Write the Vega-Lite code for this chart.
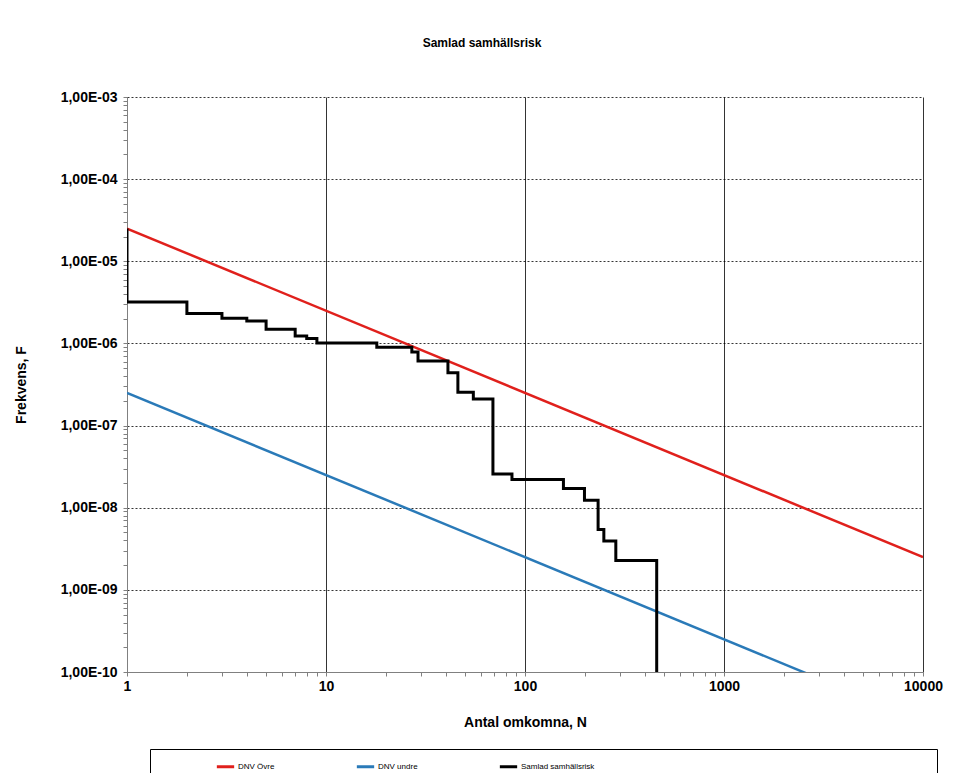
{
  "$schema": "https://vega.github.io/schema/vega-lite/v6.json",
  "autosize": {"type": "none"},
  "width": 796,
  "height": 575,
  "padding": {"left": 127, "top": 97, "right": 37, "bottom": 101},
  "background": "white",
  "title": {
    "text": "Samlad samhällsrisk",
    "font": "Liberation Sans",
    "fontSize": 12,
    "fontWeight": "bold",
    "color": "black",
    "offset": 40,
    "dx": -43
  },
  "config": {
    "view": {"stroke": null},
    "font": "Liberation Sans"
  },
  "datasets": {
    "limits": [
      {"N": 1, "F": 2.5e-5, "serie": "DNV Övre", "i": 0},
      {"N": 10000, "F": 2.5e-9, "serie": "DNV Övre", "i": 1},
      {"N": 1, "F": 2.5e-7, "serie": "DNV undre", "i": 0},
      {"N": 10000, "F": 2.5e-11, "serie": "DNV undre", "i": 1}
    ],
    "risk": [
      {"N": 1, "F": 2.5e-5, "serie": "Samlad samhällsrisk", "i": 0},
      {"N": 1, "F": 3.2e-6, "serie": "Samlad samhällsrisk", "i": 1},
      {"N": 2, "F": 2.31e-6, "serie": "Samlad samhällsrisk", "i": 2},
      {"N": 3, "F": 2.02e-6, "serie": "Samlad samhällsrisk", "i": 3},
      {"N": 4, "F": 1.87e-6, "serie": "Samlad samhällsrisk", "i": 4},
      {"N": 5, "F": 1.49e-6, "serie": "Samlad samhällsrisk", "i": 5},
      {"N": 7, "F": 1.23e-6, "serie": "Samlad samhällsrisk", "i": 6},
      {"N": 8, "F": 1.15e-6, "serie": "Samlad samhällsrisk", "i": 7},
      {"N": 9, "F": 1.01e-6, "serie": "Samlad samhällsrisk", "i": 8},
      {"N": 18, "F": 8.97e-7, "serie": "Samlad samhällsrisk", "i": 9},
      {"N": 27, "F": 7.87e-7, "serie": "Samlad samhällsrisk", "i": 10},
      {"N": 29, "F": 6.1e-7, "serie": "Samlad samhällsrisk", "i": 11},
      {"N": 41, "F": 4.39e-7, "serie": "Samlad samhällsrisk", "i": 12},
      {"N": 46, "F": 2.55e-7, "serie": "Samlad samhällsrisk", "i": 13},
      {"N": 55, "F": 2.11e-7, "serie": "Samlad samhällsrisk", "i": 14},
      {"N": 69, "F": 2.58e-8, "serie": "Samlad samhällsrisk", "i": 15},
      {"N": 86, "F": 2.2e-8, "serie": "Samlad samhällsrisk", "i": 16},
      {"N": 156, "F": 1.71e-8, "serie": "Samlad samhällsrisk", "i": 17},
      {"N": 199, "F": 1.23e-8, "serie": "Samlad samhällsrisk", "i": 18},
      {"N": 233, "F": 5.44e-9, "serie": "Samlad samhällsrisk", "i": 19},
      {"N": 249, "F": 3.92e-9, "serie": "Samlad samhällsrisk", "i": 20},
      {"N": 286, "F": 2.28e-9, "serie": "Samlad samhällsrisk", "i": 21},
      {"N": 459, "F": 1e-10, "serie": "Samlad samhällsrisk", "i": 22}
    ]
  },
  "encoding": {
    "x": {
      "field": "N",
      "type": "quantitative",
      "scale": {"type": "log", "domain": [1, 10000], "nice": false},
      "axis": {
        "title": "Antal omkomna, N",
        "titleFont": "Liberation Sans",
        "titleFontSize": 14,
        "titleFontWeight": "bold",
        "titleColor": "black",
        "titlePadding": 22,
        "values": [1,2,3,4,5,6,7,8,9,10,20,30,40,50,60,70,80,90,100,200,300,400,500,600,700,800,900,1000,2000,3000,4000,5000,6000,7000,8000,9000,10000],
        "labelExpr": "abs(log(datum.value)/LN10 - round(log(datum.value)/LN10)) < 0.001 ? format(datum.value, 'd') : ''",
        "labelFont": "Liberation Sans",
        "labelFontSize": 14,
        "labelFontWeight": "bold",
        "labelColor": "black",
        "labelPadding": 3,
        "labelFlush": false,
        "labelOverlap": false,
        "domainColor": "#808080",
        "tickColor": "#808080",
        "tickSize": 4,
        "grid": true,
        "gridColor": "black",
        "gridWidth": 0.8,
        "gridOpacity": {"condition": {"test": "abs(log(datum.value)/LN10 - round(log(datum.value)/LN10)) < 0.001", "value": 1}, "value": 0}
      }
    },
    "y": {
      "field": "F",
      "type": "quantitative",
      "scale": {"type": "log", "domain": [1e-10, 1e-3], "nice": false},
      "axis": {
        "title": "Frekvens, F",
        "titleFont": "Liberation Sans",
        "titleFontSize": 14,
        "titleFontWeight": "bold",
        "titleColor": "black",
        "titlePadding": 32,
        "values": [1e-10,2e-10,3e-10,4e-10,5e-10,6e-10,7e-10,8e-10,9e-10,1e-9,2e-9,3e-9,4e-9,5e-9,6e-9,7e-9,8e-9,9e-9,1e-8,2e-8,3e-8,4e-8,5e-8,6e-8,7e-8,8e-8,9e-8,1e-7,2e-7,3e-7,4e-7,5e-7,6e-7,7e-7,8e-7,9e-7,1e-6,2e-6,3e-6,4e-6,5e-6,6e-6,7e-6,8e-6,9e-6,1e-5,2e-5,3e-5,4e-5,5e-5,6e-5,7e-5,8e-5,9e-5,1e-4,2e-4,3e-4,4e-4,5e-4,6e-4,7e-4,8e-4,9e-4,1e-3],
        "labelExpr": "abs(log(datum.value)/LN10 - round(log(datum.value)/LN10)) < 0.001 ? '1,00E-' + (abs(round(log(datum.value)/LN10)) < 10 ? '0' : '') + abs(round(log(datum.value)/LN10)) : ''",
        "labelFont": "Liberation Sans",
        "labelFontSize": 14,
        "labelFontWeight": "bold",
        "labelColor": "black",
        "labelPadding": 6,
        "labelFlush": false,
        "labelOverlap": false,
        "domainColor": "#808080",
        "tickColor": "#808080",
        "tickSize": 4,
        "grid": true,
        "gridColor": "black",
        "gridWidth": 0.8,
        "gridDash": [2, 2],
        "gridOpacity": {"condition": {"test": "abs(log(datum.value)/LN10 - round(log(datum.value)/LN10)) < 0.001", "value": 1}, "value": 0}
      }
    },
    "color": {
      "field": "serie",
      "type": "nominal",
      "scale": {
        "domain": ["DNV Övre", "DNV undre", "Samlad samhällsrisk"],
        "range": ["#e0201c", "#2a7ab8", "#000000"]
      },
      "legend": {
        "title": "\u00a0",
        "titleOrient": "right",
        "titlePadding": 336,
        "titleFontSize": 8,
        "orient": "none",
        "legendX": 23,
        "legendY": 652,
        "direction": "horizontal",
        "symbolType": "stroke",
        "symbolSize": 300,
        "symbolStrokeWidth": 3,
        "symbolOffset": 58,
        "columnPadding": 22,
        "labelFont": "Liberation Sans",
        "labelFontSize": 8,
        "labelColor": "black",
        "labelOffset": 2,
        "strokeColor": "black",
        "padding": 7
      }
    },
    "order": {"field": "i", "type": "quantitative"}
  },
  "layer": [
    {
      "data": {"name": "limits"},
      "mark": {"type": "line", "strokeWidth": 2.5, "clip": true}
    },
    {
      "data": {"name": "risk"},
      "mark": {"type": "line", "strokeWidth": 3, "interpolate": "step-after", "clip": true}
    }
  ]
}
